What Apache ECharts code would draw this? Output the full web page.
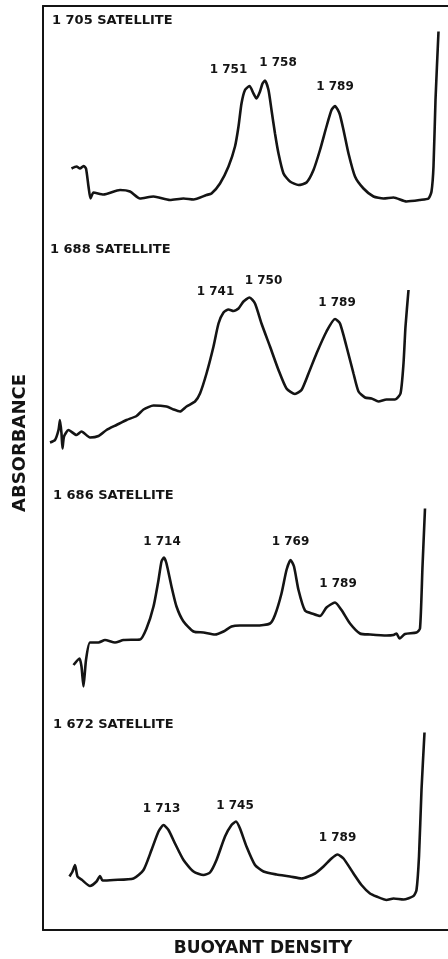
<!DOCTYPE html>
<html>
<head>
<meta charset="utf-8">
<script src="https://cdn.jsdelivr.net/npm/echarts@6/dist/echarts.min.js"></script>
<style>html,body{margin:0;padding:0;background:#fff}#c{width:448px;height:959px}</style>
</head>
<body>
<div id="c"></div>
<script>
// ---- DATA (buoyant density position, absorbance in arbitrary units) ----
const panelTitles = ['1 705 SATELLITE', '1 688 SATELLITE', '1 686 SATELLITE', '1 672 SATELLITE'];

const trace1 = [[5.7,8.3],[6.7,8.7],[7.4,8.3],[8.1,8.8],[8.6,8.3],[9.1,4.7],[9.5,2.3],[10.1,3.5],[12.1,3.1],[15.4,4.0],[17.4,3.7],[19.4,2.3],[22.1,2.7],[25.4,2.0],[28.1,2.3],[30.1,2.1],[32.7,3.0],[33.7,3.3],[35.4,5.3],[37.1,8.7],[38.4,12.7],[39.1,16.7],[39.7,21.3],[40.4,24.0],[41.3,24.8],[42.1,23.3],[42.7,22.3],[43.4,23.7],[43.9,25.3],[44.4,25.9],[45.1,24.0],[45.7,20.0],[46.4,15.3],[47.1,11.3],[48.1,7.3],[49.4,5.7],[51.1,5.0],[52.7,5.5],[54.1,8.0],[55.4,12.0],[56.7,16.7],[57.7,20.0],[58.4,20.8],[59.3,19.3],[60.1,16.0],[61.1,11.3],[62.4,6.7],[64.1,4.3],[66.1,2.7],[68.1,2.3],[70.1,2.5],[72.7,1.7],[75.4,2.0],[77.1,2.3],[77.7,3.7],[78.1,8.7],[78.5,22.0],[79.1,35.7]];
const peakNames1 = ['1 751', '1 758', '1 789'];
const peakX1 = [41.3, 44.4, 58.4];

const trace2 = [[1.4,1.5],[2.4,2.0],[3.1,4.0],[3.4,6.0],[3.7,3.3],[3.9,0.3],[4.2,2.7],[5.1,4.0],[6.7,3.0],[7.7,3.7],[9.4,2.5],[11.1,2.8],[12.7,4.0],[14.7,5.0],[16.7,6.0],[18.7,6.8],[20.1,8.1],[22.1,8.9],[24.7,8.7],[26.1,8.1],[27.4,7.7],[28.7,8.7],[30.4,9.7],[31.4,11.3],[32.7,15.3],[34.1,20.7],[35.1,25.3],[36.1,27.5],[37.1,28.1],[38.1,27.8],[39.1,28.3],[40.1,29.7],[41.3,30.5],[42.4,29.3],[43.7,25.3],[45.4,20.7],[47.1,16.0],[48.7,12.3],[50.4,11.2],[51.7,12.0],[53.1,15.3],[54.7,19.3],[56.7,23.7],[58.4,26.2],[59.4,25.3],[60.7,20.7],[62.1,15.3],[63.1,11.7],[64.4,10.5],[65.7,10.3],[67.1,9.7],[68.7,10.1],[70.4,10.1],[71.5,11.3],[72.1,17.3],[72.5,24.7],[73.1,32.0]];
const peakNames2 = ['1 741', '1 750', '1 789'];
const peakX2 = [37.1, 41.3, 58.4];

const trace3 = [[6.1,7.0],[7.3,8.3],[7.7,6.7],[8.1,2.7],[8.6,8.0],[9.4,11.5],[11.1,11.5],[12.4,12.0],[14.4,11.5],[16.1,12.0],[19.4,12.1],[20.7,14.3],[22.1,18.7],[23.1,24.0],[23.7,27.7],[24.2,28.5],[24.7,27.3],[25.7,22.7],[26.7,18.7],[28.1,15.7],[30.1,13.7],[32.1,13.5],[34.4,13.1],[36.1,13.7],[37.7,14.7],[39.4,14.9],[42.7,14.9],[45.4,15.3],[46.4,17.0],[47.7,21.3],[48.7,26.0],[49.5,28.0],[50.2,26.7],[51.1,22.0],[52.4,17.9],[54.1,17.2],[55.4,16.8],[56.7,18.5],[58.4,19.5],[59.7,18.0],[61.4,15.3],[63.4,13.3],[65.4,13.1],[68.7,12.9],[70.1,13.0],[70.7,13.3],[71.3,12.3],[72.4,13.2],[74.7,13.5],[75.4,14.3],[75.9,26.7],[76.4,38.3]];
const peakNames3 = ['1 714', '1 769', '1 789'];
const peakX3 = [24.2, 49.5, 58.4];

const trace4 = [[5.3,8.7],[5.9,9.7],[6.4,11.0],[6.9,8.7],[7.7,8.1],[9.4,6.8],[10.7,7.7],[11.4,8.8],[11.9,7.9],[14.1,8.0],[18.1,8.3],[20.1,10.0],[21.7,14.0],[23.1,17.7],[24.1,19.0],[25.1,18.0],[26.4,15.3],[28.1,12.0],[30.1,9.7],[32.1,9.0],[33.4,9.5],[34.7,12.0],[36.4,16.7],[37.7,19.0],[38.6,19.7],[39.4,18.3],[40.7,14.7],[42.4,11.0],[44.1,9.7],[46.7,9.1],[49.4,8.7],[51.7,8.3],[54.4,9.3],[56.1,10.7],[57.7,12.3],[58.9,13.1],[60.1,12.3],[62.1,9.3],[63.7,7.0],[65.4,5.3],[66.7,4.7],[68.7,4.0],[70.1,4.3],[72.1,4.1],[74.1,4.8],[74.7,6.0],[75.2,12.7],[75.7,26.0],[76.3,37.5]];
const peakNames4 = ['1 713', '1 745', '1 789'];
const peakX4 = [24.1, 38.6, 58.9];

const xAxisTitle = 'BUOYANT DENSITY';
const yAxisTitle = 'ABSORBANCE';

// ---- LAYOUT ----
const INK = '#141414';
const FONT = 'DejaVu Sans';
const panelTops = [10, 250, 500, 720];
const panelHeight = 200;
const titlePos = [[52, 20.5], [50, 249.5], [53, 496], [53, 725]];
const labelOffsets = [
  [[-21, -16], [13, -18], [0, -19]],
  [[-13, -18], [14, -17], [2, -16]],
  [[-2, -16], [0, -18], [3, -19]],
  [[-2, -16], [-1, -16], [0, -17]]
];

const traces = [trace1, trace2, trace3, trace4];
const peakNames = [peakNames1, peakNames2, peakNames3, peakNames4];
const peakXs = [peakX1, peakX2, peakX3, peakX4];

const grids = [{ left: 43, right: 0, top: 6, bottom: 29 }];
const hiddenAxisParts = { axisTick: { show: false }, axisLabel: { show: false }, splitLine: { show: false } };
const frameLine = { show: true, onZero: false, lineStyle: { color: INK, width: 2 } };
const xAxes = [
  Object.assign({ gridIndex: 0, type: 'value', min: 0, max: 81, position: 'bottom', axisLine: frameLine }, hiddenAxisParts),
  Object.assign({ gridIndex: 0, type: 'value', min: 0, max: 81, position: 'top', axisLine: frameLine }, hiddenAxisParts)
];
const yAxes = [
  Object.assign({ gridIndex: 0, type: 'value', min: 0, max: 1, position: 'left', axisLine: frameLine }, hiddenAxisParts)
];
const series = [];

traces.forEach((tr, i) => {
  grids.push({ left: 43, right: 0, top: panelTops[i], height: panelHeight });
  const xIdx = xAxes.length;
  const yIdx = yAxes.length;
  xAxes.push({ gridIndex: i + 1, type: 'value', min: 0, max: 81, show: false });
  yAxes.push({ gridIndex: i + 1, type: 'value', min: 0, max: 40, show: false });
  const mp = peakNames[i].map((name, j) => {
    const x = peakXs[i][j];
    const pt = tr.find(p => p[0] === x);
    return {
      name: name,
      coord: [x, pt[1]],
      label: { offset: labelOffsets[i][j] }
    };
  });
  series.push({
    type: 'line',
    xAxisIndex: xIdx,
    yAxisIndex: yIdx,
    data: tr,
    showSymbol: false,
    smooth: 0.2,
    clip: false,
    silent: true,
    lineStyle: { color: INK, width: 2.6 },
    markPoint: {
      symbol: 'circle',
      symbolSize: 0,
      silent: true,
      label: {
        show: true,
        position: 'inside',
        formatter: '{b}',
        color: INK,
        fontFamily: FONT,
        fontWeight: 'bold',
        fontSize: 12
      },
      data: mp
    }
  });
});

const graphics = panelTitles.map((t, i) => ({
  type: 'text',
  x: titlePos[i][0],
  y: titlePos[i][1],
  style: {
    text: t, fill: INK, font: 'bold 13px "' + FONT + '"',
    textAlign: 'left', textVerticalAlign: 'middle'
  }
}));
graphics.push({
  type: 'text', x: 263, y: 949,
  style: { text: xAxisTitle, fill: INK, font: 'bold 17px "' + FONT + '"', textAlign: 'center', textVerticalAlign: 'middle' }
});
graphics.push({
  type: 'text', x: 20, y: 443, rotation: Math.PI / 2,
  style: { text: yAxisTitle, fill: INK, font: 'bold 18px "' + FONT + '"', textAlign: 'center', textVerticalAlign: 'middle' }
});

const chart = echarts.init(document.getElementById('c'), null, { renderer: 'canvas' });
chart.setOption({
  animation: false,
  backgroundColor: '#ffffff',
  grid: grids,
  xAxis: xAxes,
  yAxis: yAxes,
  series: series,
  graphic: graphics
});
</script>
</body>
</html>
